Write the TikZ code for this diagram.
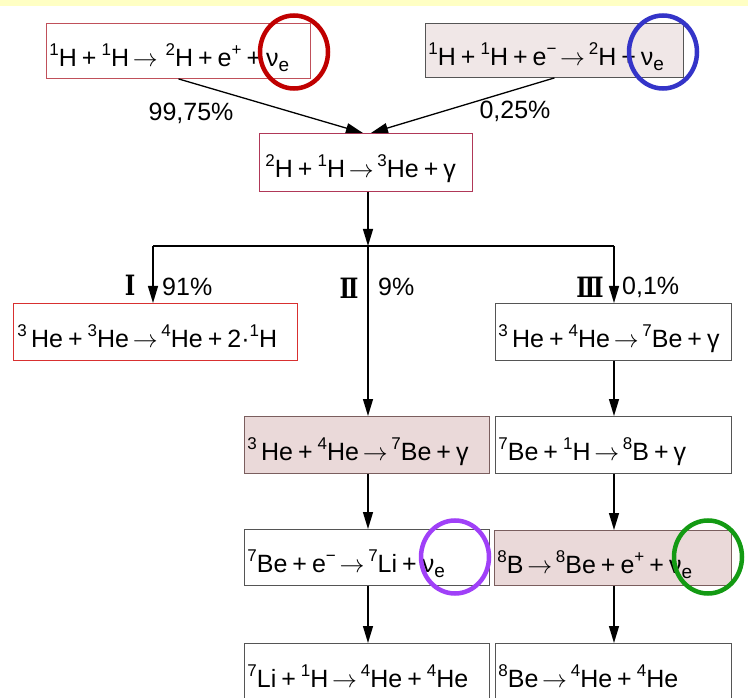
\documentclass[tikz,border=0pt]{standalone}
\usepackage{fontspec}
\setmainfont{Liberation Sans}
\newfontfamily\romfont{DejaVu Serif}
\usetikzlibrary{arrows.meta,shapes.geometric,calc}
\definecolor{bandyellow}{HTML}{FFFFC4}
\definecolor{edgeA}{HTML}{C0505A}
\definecolor{edgeC}{HTML}{B03858}
\definecolor{edgeD}{HTML}{D83030}
\definecolor{edgeG}{HTML}{555555}
\definecolor{edgeP}{HTML}{7A5E5E}
\definecolor{fillB}{HTML}{F0E7E7}
\definecolor{fillP}{HTML}{EAD9D9}
\definecolor{ringred}{HTML}{C00000}
\definecolor{ringblue}{HTML}{3434C8}
\definecolor{ringpurple}{HTML}{A040F8}
\definecolor{ringgreen}{HTML}{139A13}
\newcommand\isot[1]{\raisebox{11pt}{\fontsize{17}{17}\selectfont #1}}
\newcommand\nue{ν\raisebox{-5pt}{\fontsize{19}{19}\selectfont e}}
\newcommand\pl{\hspace{.2em}+\hspace{.2em}}
\newcommand\ar{\hspace{.15em}$\rightarrow$\hspace{.15em}}
\newcommand\rom[1]{\scalebox{0.8}[1]{\romfont\bfseries #1}}
\begin{document}
\begin{tikzpicture}[x=1pt,y=-1pt,
  reac/.style={draw=#1, line width=0.9pt, anchor=north west, inner xsep=3pt,
    inner ysep=0pt, align=left, text height=31pt, text depth=0pt,
    font=\fontsize{25}{28}\selectfont},
  pct/.style={font=\fontsize{25}{28}\selectfont, inner sep=0pt},
  roman/.style={font=\fontsize{28}{30}\selectfont, inner sep=0pt},
  ring/.style={draw=#1, ellipse, line width=4.5pt, minimum width=68, minimum height=73, inner sep=0pt},
  flow/.style={line width=1.3pt, -{Triangle[length=17pt,width=10pt]}},
  plain/.style={line width=1.3pt}]
\useasboundingbox (0,0) rectangle (748,698);
\clip (0,0) rectangle (748,698);
\fill[bandyellow] (0,0) rectangle (748,6);

% boxes
\node[reac=edgeA, minimum width=264, text width=258, minimum height=55] (A) at (46,23)
  {\mbox{\isot{1}H\pl\isot{1}H\ar\,\isot{2}H\pl e\isot{+}\pl\nue}};
\node[reac=edgeG, fill=fillB, minimum width=258, text width=252, minimum height=54] (B) at (425,23)
  {\mbox{\isot{1}H\pl\isot{1}H\pl e\isot{−}\ar\isot{2}H\pl\nue}};
\node[reac=edgeC, minimum width=213, text width=201, minimum height=58, inner xsep=6pt] (C) at (259,133)
  {\mbox{\isot{2}H\pl\isot{1}H\ar\isot{3}He\pl γ}};
\node[reac=edgeD, minimum width=284, text width=276, minimum height=57, inner xsep=4pt] (D) at (13,303)
  {\mbox{\isot{3}\,He\pl\isot{3}He\ar\isot{4}He\pl 2·\isot{1}H}};
\node[reac=edgeP, fill=fillP, minimum width=245, text width=239, minimum height=57] (E) at (244,416)
  {\mbox{\isot{3}\,He\pl\isot{4}He\ar\isot{7}Be\pl γ}};
\node[reac=edgeG, minimum width=236, text width=230, minimum height=57] (F) at (495,303)
  {\mbox{\isot{3}\,He\pl\isot{4}He\ar\isot{7}Be\pl γ}};
\node[reac=edgeG, minimum width=236, text width=230, minimum height=57] (G) at (495,416)
  {\mbox{\isot{7}Be\pl\isot{1}H\ar\isot{8}B\pl γ}};
\node[reac=edgeG, minimum width=245, text width=239, minimum height=56] (H) at (244,529)
  {\mbox{\isot{7}Be\pl e\isot{−}\ar\isot{7}Li\pl\nue}};
\node[reac=edgeP, fill=fillP, minimum width=237, text width=231, minimum height=55] (I) at (494,530)
  {\mbox{\isot{8}B\ar\isot{8}Be\pl e\isot{+}\pl\nue}};
\node[reac=edgeG, minimum width=245, text width=239, minimum height=57] (J) at (244,643)
  {\mbox{\isot{7}Li\pl\isot{1}H\ar\isot{4}He\pl\isot{4}He}};
\node[reac=edgeG, minimum width=236, text width=230, minimum height=57] (K) at (495,643)
  {\mbox{\isot{8}Be\ar\isot{4}He\pl\isot{4}He}};

% percentages
\node[pct] (p1) at (191,113) {99,75\%};
\node[pct] (p2) at (515,111) {0,25\%};
\node[roman, anchor=center] (r1) at (130,285) {\rom{Ⅰ}};
\node[pct, anchor=west] (q1) at (162,287) {91\%};
\node[roman, anchor=center] (r2) at (349,288) {\rom{Ⅱ}};
\node[pct, anchor=west] (q2) at (378,287) {9\%};
\node[roman, anchor=center] (r3) at (590,287) {\rom{Ⅲ}};
\node[pct, anchor=west] (q3) at (622,287) {0,1\%};

% connectors
\coordinate (jL) at (153,246);
\coordinate (jM) at (368,246);
\coordinate (jR) at (614,246);
\draw[flow] (A.south) -- ($(C.north)+(-3,0)$);
\draw[flow] (B.south) -- ($(C.north)+(5,0)$);
\draw[flow] (C.south -| jM) -- (jM);
\draw[plain] (jL) -- (jR);
\draw[flow] (jL) -- (jL |- D.north);
\draw[flow] (jM) -- (jM |- E.north);
\draw[flow] (jR) -- (jR |- F.north);
\draw[flow] (jM |- E.south) -- (jM |- H.north);
\draw[flow] (jM |- H.south) -- (jM |- J.north);
\draw[flow] (jR |- F.south) -- (jR |- G.north);
\draw[flow] (jR |- G.south) -- (jR |- I.north);
\draw[flow] (jR |- I.south) -- (jR |- K.north);

% highlight rings
\node[ring=ringred] (ringA) at (294,52) {};
\node[ring=ringblue] (ringB) at (663,52) {};
\node[ring=ringpurple] (ringH) at (455,557) {};
\node[ring=ringgreen] (ringI) at (708,557) {};
\end{tikzpicture}
\end{document}
